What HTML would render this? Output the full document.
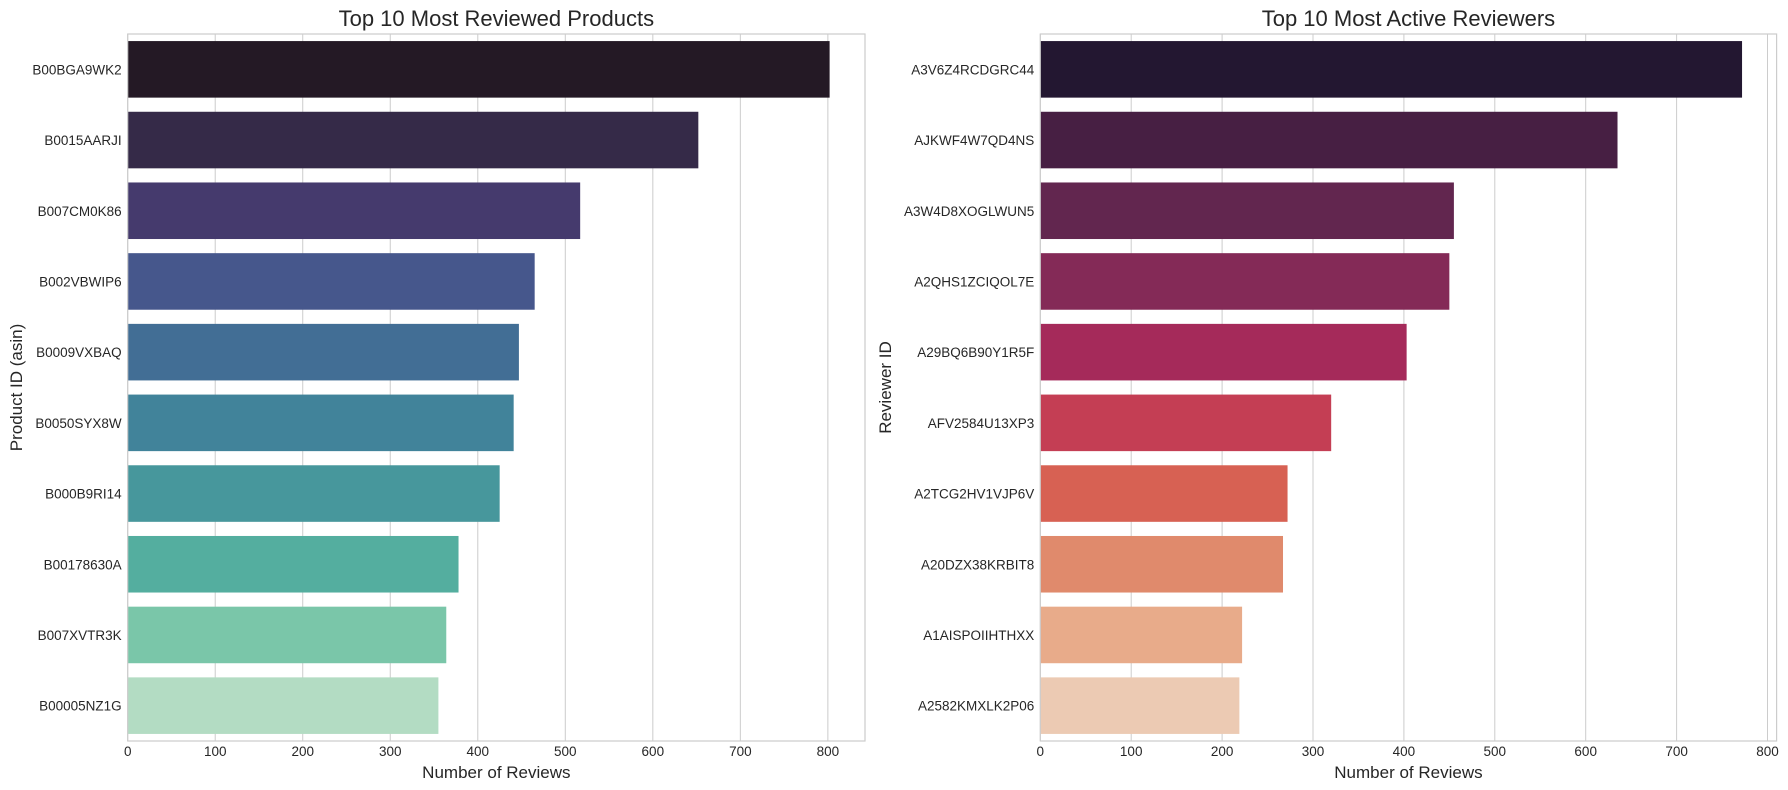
<!DOCTYPE html>
<html><head><meta charset="utf-8"><style>
html,body{margin:0;padding:0;background:#fff;}
svg{display:block;font-family:"Liberation Sans",Arial,sans-serif;}
</style></head><body>
<svg id="chart" width="1788" height="790" viewBox="0 0 1788 790"></svg>
<script>
const productIds = ["B00BGA9WK2","B0015AARJI","B007CM0K86","B002VBWIP6","B0009VXBAQ","B0050SYX8W","B000B9RI14","B00178630A","B007XVTR3K","B00005NZ1G"];
const productCounts = [802,652,517,465,447,441,425,378,364,355];
const reviewerIds = ["A3V6Z4RCDGRC44","AJKWF4W7QD4NS","A3W4D8XOGLWUN5","A2QHS1ZCIQOL7E","A29BQ6B90Y1R5F","AFV2584U13XP3","A2TCG2HV1VJP6V","A20DZX38KRBIT8","A1AISPOIIHTHXX","A2582KMXLK2P06"];
const reviewerCounts = [772,635,455,450,403,320,272,267,222,219];
const xTicks = [0,100,200,300,400,500,600,700,800];
const productColors = ["#241925","#352a48","#453a6d","#46578c","#426e95","#41839a","#47979c","#54ae9f","#7ac6a9","#b3dcc3"];
const reviewerColors = ["#231731","#471f43","#62264f","#842a57","#a52a5a","#c43e54","#d76153","#e08a6c","#e8ab8a","#eccab3"];

const NS="http://www.w3.org/2000/svg";
const svg=document.getElementById('chart');
function mk(tag,attrs,parent){const e=document.createElementNS(NS,tag);for(const k in attrs)e.setAttribute(k,attrs[k]);(parent||svg).appendChild(e);return e;}

function panel(cfg){
  const g=mk('g',{});
  
  
  const x0=cfg.x0,x1=cfg.x1,top=34,bot=741;
  const xs=v=>x0+v*cfg.scale;
  const band=(bot-top)/cfg.cats.length;
  cfg.ticks.forEach(t=>{
    const l=mk('line',{x1:xs(t),x2:xs(t),y1:top,y2:bot,stroke:'#cccccc','stroke-width':1},g);
    
    
  });
  cfg.cats.forEach((c,i)=>{
    const y=top+band*i+band*0.1;
    const r=mk('rect',{x:x0,y:y,width:xs(cfg.vals[i])-x0,height:band*0.8,fill:cfg.colors[i]},g);
    
    
    const t=mk('text',{x:x0-6,y:top+band*(i+0.5)+5,'text-anchor':'end','font-size':13.5,fill:'#262626'},g);
    t.textContent=c;
    
    
  });
  cfg.ticks.forEach(t=>{
    const tx=mk('text',{x:xs(t),y:756,'text-anchor':'middle','font-size':13.5,fill:'#262626'},g);
    tx.textContent=t;
    
    
  });
  const fr=mk('rect',{x:x0,y:top,width:x1-x0,height:bot-top,fill:'none',stroke:'#cccccc','stroke-width':1.2},g);
  
  
  const ti=mk('text',{x:(x0+x1)/2,y:26,'text-anchor':'middle','font-size':22,fill:'#262626'},g);
  ti.textContent=cfg.title;
  
  
  const xl=mk('text',{x:(x0+x1)/2,y:778,'text-anchor':'middle','font-size':17,fill:'#262626'},g);
  xl.textContent='Number of Reviews';
  
  
  const yl=mk('text',{x:0,y:0,'text-anchor':'middle','font-size':17,fill:'#262626',transform:`translate(${cfg.ylx},${(top+bot)/2}) rotate(-90)`},g);
  yl.textContent=cfg.ylabel;
  
  
}
panel({name:'products-panel',x0:127.7,x1:865,scale:0.8752,cats:productIds,vals:productCounts,colors:productColors,ticks:xTicks,title:'Top 10 Most Reviewed Products',ylabel:'Product ID (asin)',ylx:22});
panel({name:'reviewers-panel',x0:1040.3,x1:1776.6,scale:0.909,cats:reviewerIds,vals:reviewerCounts,colors:reviewerColors,ticks:xTicks,title:'Top 10 Most Active Reviewers',ylabel:'Reviewer ID',ylx:891});
</script>
</body></html>
